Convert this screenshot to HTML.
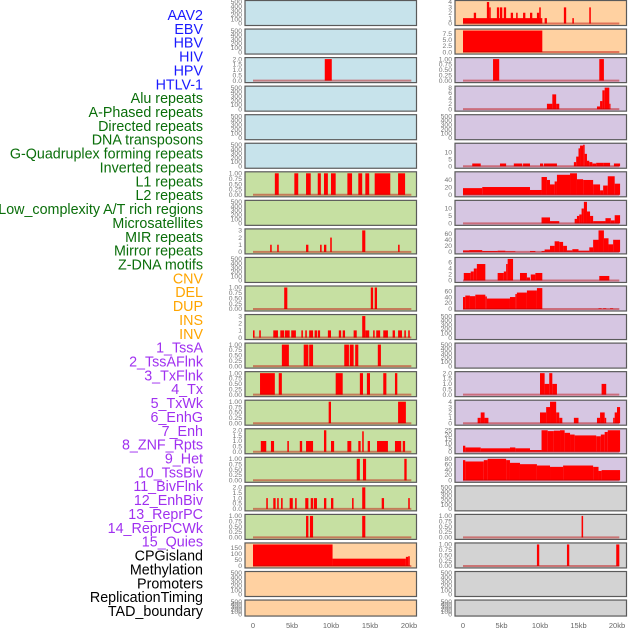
<!DOCTYPE html>
<html><head><meta charset="utf-8">
<style>
body{margin:0;background:#fff;width:630px;height:630px;overflow:hidden;font-family:"Liberation Sans",sans-serif;}
svg{display:block}
</style></head>
<body>
<svg id="chart" width="630" height="630" xmlns="http://www.w3.org/2000/svg"></svg>
<script>
const labels=["AAV2","EBV","HBV","HIV","HPV","HTLV-1","Alu repeats","A-Phased repeats","Directed repeats","DNA transposons","G-Quadruplex forming repeats","Inverted repeats","L1 repeats","L2 repeats","Low_complexity A/T rich regions","Microsatellites","MIR repeats","Mirror repeats","Z-DNA motifs","CNV","DEL","DUP","INS","INV","1_TssA","2_TssAFlnk","3_TxFlnk","4_Tx","5_TxWk","6_EnhG","7_Enh","8_ZNF_Rpts","9_Het","10_TssBiv","11_BivFlnk","12_EnhBiv","13_ReprPC","14_ReprPCWk","15_Quies","CPGisland","Methylation","Promoters","ReplicationTiming","TAD_boundary"];
const groups=["virus","virus","virus","virus","virus","virus","repeat","repeat","repeat","repeat","repeat","repeat","repeat","repeat","repeat","repeat","repeat","repeat","repeat","sv","sv","sv","sv","sv","chrom","chrom","chrom","chrom","chrom","chrom","chrom","chrom","chrom","chrom","chrom","chrom","chrom","chrom","chrom","other","other","other","other","other"];
const xTickLabels=["0","5kb","10kb","15kb","20kb"];
const xTickValues=[0,5,10,15,20];
const E=[0,100,200,300,400,500];
const U=[0,0.25,0.5,0.75,1];
const yMax=[500,500,2,500,500,500, 1,500,3,500,1,3,1,1,1,2,1,2,1,177,500,500, 4,8.8,1,8,500,15.6,58,14.5,71,7.2,72,500,500,2,4,25,80,500,1,1,500,500];
const yTicks=[E,E,[0,0.5,1,1.5,2],E,E,E, U,E,[0,1,2,3],E,U,[0,1,2,3],U,U,U,[0,0.5,1,1.5,2],U,[0,0.5,1,1.5,2],U,[0,50,100,150],E,E,
 [0,1,2,3,4],[0,2.5,5,7.5],U,[0,2,4,6,8],E,[0,5,10],[0,20,40],[0,5,10],[0,20,40,60],[0,2,4,6],[0,20,40,60],E,E,[0,0.5,1,1.5,2],[0,1,2,3,4],[0,5,10,15,20,25],[0,20,40,60,80],E,U,U,E,E];
const series=[
 [],[],[[9.2,10.1,2]],[],[],[],
 [[2.8,3.3,1],[5.3,5.8,1],[6.8,7.4,1],[8.3,8.7,1],[9.1,9.6,1],[10.0,10.6,1],[12.1,12.7,1],[13.5,14.0,1],[14.4,14.9,1],[15.6,17.6,1],[18.6,19.5,1]],
 [],
 [[2.2,2.4,1],[3.1,3.3,1],[6.8,7.1,1],[8.6,8.8,1],[9.1,9.4,1],[9.9,10.1,2],[14.0,14.4,3],[18.6,18.8,1]],
 [],
 [[4.0,4.4,1],[15.1,15.4,1],[15.6,15.9,1]],
 [[0,0.2,1],[0.8,1.0,1],[2.6,3.2,1],[3.5,4.0,1],[4.1,4.7,1],[4.9,5.5,1],[6.2,6.4,1],[6.7,6.9,1],[7.2,7.7,1],[7.9,8.2,1],[8.3,8.6,1],[9.6,10.0,1],[11.0,11.3,1],[11.5,11.8,1],[12.9,13.3,1],[14.0,14.4,3],[14.4,14.9,1],[15.4,15.6,1],[15.8,16.3,1],[16.7,17.3,1],[17.9,18.2,1],[18.6,19.1,1],[19.4,19.6,1],[19.9,20.1,1]],
 [[3.7,4.6,1],[6.5,7.1,1],[7.2,7.7,1],[11.7,12.3,1],[12.4,12.9,1],[13.1,13.5,1],[16.0,16.4,1]],
 [[0.9,2.8,1],[3.3,3.7,1],[10.6,11.5,1],[13.7,14.1,1],[14.6,15.0,1],[16.7,17.1,1],[18.2,18.5,1]],
 [[9.7,10.0,1],[18.6,19.6,1]],
 [[1.0,1.7,1],[2.3,2.7,1],[4.4,4.6,1],[6.0,6.3,1],[6.8,7.7,1],[9.1,9.4,2],[10.0,10.4,1],[12.1,12.6,1],[13.5,13.8,1],[14.0,14.2,1.9],[14.7,15.0,1],[15.9,17.3,1],[18.2,19.0,1],[19.2,19.5,1]],
 [[13.3,13.7,1],[14.1,14.5,1],[19.4,19.7,1]],
 [[1.7,1.9,1],[2.6,2.9,1],[3.1,3.3,1],[3.6,3.8,1],[4.7,5.1,1],[5.4,5.6,1],[6.7,7.1,1],[7.4,7.7,1],[7.8,8.2,1],[9.1,9.4,1],[10.0,10.3,1],[12.7,12.9,1],[14.0,14.4,2],[16.5,16.8,1],[19.9,20.1,1]],
 [[6.8,7.1,1],[7.3,7.7,1],[14.0,14.4,1]],
 [[0,10.2,177],[10.2,19.6,60],[19.6,19.9,75],[19.9,20.1,80]],
 [],[],
 [[0,10.3,1],[1.4,1.7,2],[3.1,3.4,4],[3.4,3.6,3],[4.4,4.7,3],[4.8,5.1,3],[5.3,5.6,3],[6.2,6.5,2],[6.9,7.1,2],[7.8,8.1,2],[8.7,9.0,2],[9.6,9.9,2],[9.9,10.1,3],[10.6,10.9,1],[13.1,13.4,3],[14.2,14.4,1],[16.4,16.6,3]],
 [[0,10.3,8.8]],
 [[3.9,4.7,1],[17.7,18.3,1]],
 [[10.9,11.6,2],[11.6,12.1,5.5],[12.1,12.5,2],[17.4,17.8,1],[17.8,18.1,3],[18.1,18.4,7],[18.4,19.0,8],[19.0,19.1,2]],
 [],
 [[1.2,2.3,2],[4.8,5.6,2],[6.6,7.7,2],[7.8,8.7,2],[10.0,10.4,2],[10.5,12.2,2],[14.4,14.7,3],[14.7,15.0,7],[15.0,15.2,13],[15.2,15.6,15],[15.6,15.8,15.6],[15.8,16.1,9],[16.1,16.4,4],[16.4,16.8,3],[16.8,17.3,2],[17.3,18.2,2.5],[18.2,19.1,2.5],[19.6,20.4,2]],
 [[0,2.5,18],[2.5,8.7,21],[8.7,10.2,13],[10.2,10.9,48],[10.9,11.3,40],[11.3,11.9,28],[11.9,12.2,36],[12.2,13.9,54],[13.9,14.8,58],[14.8,15.6,42],[15.6,16.9,40],[16.9,17.8,28],[17.8,18.2,12],[18.2,18.8,25],[18.8,19.7,50],[19.7,20.4,30]],
 [[10.2,11.3,4],[11.3,12.5,1.5],[14.5,14.8,3],[14.8,15.1,5],[15.1,15.4,6],[15.4,15.7,10],[15.7,16.1,14.5],[16.1,16.5,8],[16.5,16.9,5],[16.9,18.5,1.5],[18.5,19.2,3.5],[19.2,19.7,2],[19.7,20.4,5.5]],
 [[0,0.8,5],[0.8,2.5,6],[2.5,4.5,3],[4.5,5.5,4],[5.5,6.8,2],[8.7,9.4,3],[10.2,10.6,3],[10.6,11.3,8],[11.3,11.9,20],[11.9,12.5,35],[12.5,13.0,33],[13.0,13.5,20],[13.5,14.2,5],[14.2,15.0,9],[15.0,16.4,4],[16.4,16.9,15],[16.9,17.6,40],[17.6,18.3,71],[18.3,18.9,45],[18.9,19.5,25],[19.5,20.4,40]],
 [[0.1,1.0,2.5],[1.0,1.4,3],[1.4,1.8,4],[1.8,2.9,5.5],[4.5,5.3,2.5],[5.3,5.6,3],[5.6,5.8,5.5],[5.8,6.5,7.2],[7.4,8.3,2.5],[8.3,8.7,1],[8.8,9.4,2],[9.4,10.3,2.5],[17.7,19.0,1.5]],
 [[0,0.3,40],[0.3,0.9,45],[0.9,1.6,43],[1.6,2.9,48],[2.9,3.1,42],[3.1,6.1,35],[6.1,6.8,40],[6.8,7.0,50],[7.0,8.3,55],[8.3,9.6,62],[9.6,10.3,70],[17.6,18.0,2],[18.2,18.6,2],[19.1,19.5,2]],
 [],[],
 [[10.0,10.6,2],[10.6,11.2,1],[11.2,11.6,2],[11.6,12.2,1],[18.0,18.6,1]],
 [[1.9,2.3,1],[2.3,2.8,2],[2.8,3.3,1],[10.0,10.8,2],[10.8,11.3,3],[11.3,12.1,4],[12.1,12.5,2],[12.5,12.9,1],[14.4,15.0,1],[17.4,17.8,1],[17.8,18.4,2],[18.4,18.6,1],[19.5,19.7,1],[19.7,20.0,2],[20.0,20.4,3]],
 [[0,0.3,7],[0.3,2.3,5],[2.3,6.1,4],[6.1,6.8,5],[6.8,8.7,4],[8.7,10.2,2],[10.2,11.0,25],[11.0,11.8,24],[11.8,12.6,24.5],[12.6,13.2,25],[13.2,13.9,22],[13.9,14.5,20],[14.5,17.3,19],[17.3,17.9,18],[17.9,18.4,20],[18.4,18.8,23],[18.8,20.4,25]],
 [[0,0.3,75],[0.3,2.7,70],[2.7,3.2,75],[3.2,5.6,80],[5.6,6.1,75],[6.1,7.4,65],[7.4,9.6,60],[9.6,11.3,55],[11.3,13.0,50],[13.0,16.9,55],[16.9,17.6,50],[17.6,18.0,35],[18.0,20.4,38]],
 [],
 [[15.4,15.6,1]],
 [[9.6,9.9,1],[13.5,13.8,1],[19.9,20.3,1]],
 [],[]
];
const NS="http://www.w3.org/2000/svg";
const svg=document.getElementById('chart');
const labelColor={virus:"#1a1aff",repeat:"#0a6e0a",sv:"#ffa500",chrom:"#a030f0",other:"#000"};
const panelFill={virus:"#c7e3eb",repeat:"#c6e0a2",sv:"#ffd1a1",chrom:"#d6c6e2",other:"#d3d3d3"};
function mk(tag,attrs){const e=document.createElementNS(NS,tag);for(const k in attrs)e.setAttribute(k,attrs[k]);svg.appendChild(e);return e;}
labels.forEach((t,i)=>{
  const e=mk('text',{x:203,y:20+i*13.86,'text-anchor':'end','font-size':'14.3',fill:labelColor[groups[i]]});
  e.textContent=t;
  
  
});
const colLeft=[245,455], colW=171.5;
const kb0=[253,463], pxPerKb=[7.8,7.7];
function xScale(c,kb){return kb0[c]+kb*pxPerKb[c];}
for(let i=0;i<44;i++){
  const c=i<22?0:1, r=i%22;
  const top=0.5+r*28.55, h=(r===21)?16:25;
  const x=colLeft[c];
  const y0=top+h-2, y1=top+1.5;
  const yS=v=>y0-(v/yMax[i])*(y0-y1);
  const rect=mk('rect',{x:x,y:top,width:colW,height:h,fill:panelFill[groups[i]],stroke:"#5a5a5a",'stroke-width':1.2});
  
  
  yTicks[i].forEach(v=>{
    const t=mk('text',{x:x-3,y:yS(v)+2.2,'text-anchor':'end','font-size':'6.8',fill:'#777'});
    t.textContent=(yTicks[i]===U)?v.toFixed(2):(yTicks[i][1]%1!==0?v.toFixed(1):String(v));
    
    
  });
  const s=series[i];
  if(s.length){
    s.forEach(d=>{
      const b=mk('rect',{x:xScale(c,d[0]),y:yS(d[2]),width:Math.max(1.2,xScale(c,d[1])-xScale(c,d[0])),height:y0-yS(d[2]),fill:'#ff0000'});
      
      
    });
    const bl=mk('line',{x1:xScale(c,0),x2:xScale(c,20.3),y1:y0,y2:y0,stroke:'rgba(190,0,0,0.45)','stroke-width':2});
    
    
  }
}
for(let c=0;c<2;c++){
  xTickValues.forEach((v,k)=>{
    const t=mk('text',{x:xScale(c,v),y:628,'text-anchor':'middle','font-size':'7.5',fill:'#666'});
    t.textContent=xTickLabels[k];
    
    
  });
}
</script>
</body></html>
